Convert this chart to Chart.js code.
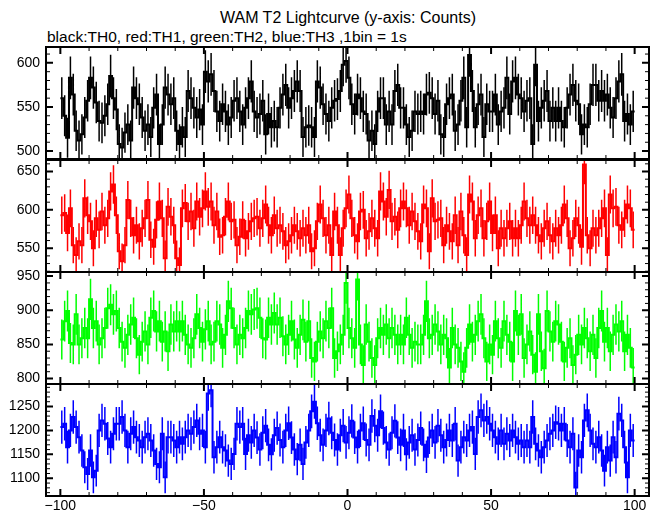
<!DOCTYPE html>
<html>
<head>
<meta charset="utf-8">
<script src="https://cdn.jsdelivr.net/npm/chart.js@4.4.1/dist/chart.umd.min.js"></script>
<style>
  html, body { margin: 0; padding: 0; background: #fff; }
  body { width: 662px; height: 515px; position: relative; overflow: hidden; font-family: 'Liberation Sans', Arial, sans-serif; }
  #title { position: absolute; left: 0; width: 696px; top: 9px; text-align: center; font-size: 16px; line-height: 18px; }
  #sub { position: absolute; left: 47px; top: 28px; font-size: 15.5px; line-height: 18px; }
  canvas { position: absolute; left: 0; }
</style>
</head>
<body>
<div id="title">WAM T2 Lightcurve (y-axis: Counts)</div>
<div id="sub">black:TH0, red:TH1, green:TH2, blue:TH3 ,1bin = 1s</div>
<canvas id="p0"></canvas>
<canvas id="p1"></canvas>
<canvas id="p2"></canvas>
<canvas id="p3"></canvas>
<script>
// WAM T2 light curve, 1 s bins from -100 s to +100 s, one panel per threshold channel.
const binStart = -100;

const th0 = [
  560,540,515,583,564,523,512,519,538,557, 583,572,555,534,532,540,553,585,560,547,
  508,504,521,530,512,572,560,553,538,523, 530,516,549,564,508,530,572,564,553,560,
  523,508,527,516,568,560,549,538,547,530, 590,579,587,568,545,534,553,545,530,538,
  557,560,545,530,549,
  560,579,545,538,542,557,519,542,527,534, 527,549,564,575,549,560,568,579,568,516,
  527,529,527,516,579,572,553,542,534,549, 557,559,568,598,602,583,553,542,564,560,
  545,542,512,523,508,545,560,560,530,545, 530,568,575,549,549,530,516,523,545,542,
  545,542,564,566,560,542,557,519,516,553,560,
  564,523,530,557,583,527,609,568,527,553, 564,516,553,545,545,564,530,545,549,583,
  542,579,583,564,560,545,557,560,508,598, 534,549,557,568,534,549,534,549,534,527,
  549,564,575,557,553,519,530,527,553,575, 575,557,568,557,564,549,538,560,579,587,
  534,542,530,545
];
const th1 = [
  593,596,570,602,554,541,559,554,615,593, 585,550,589,574,598,580,589,624,633,593,
  546,533,554,613,589,567,580,559,576,589, 613,561,552,587,611,589,537,604,591,580,
  537,528,602,609,585,598,576,611,591,602, 624,604,611,580,598,565,567,591,611,585,
  587,554,565,587,563,
  572,585,589,591,576,589,607,580,567,593, 576,580,572,554,559,567,580,572,563,576,
  567,580,546,550,585,607,589,567,580,541, 598,580,541,576,602,620,589,567,559,598,
  600,563,572,589,576,563,624,611,591,626, 585,591,574,602,611,602,580,598,585,572,
  559,607,602,546,615,585,587,589,554,580,572,
  559,593,554,598,567,541,620,611,563,593, 602,563,585,611,570,593,550,576,563,576,
  585,563,576,563,580,611,589,580,593,580, 567,559,576,585,567,559,576,567,580,607,
  589,550,563,589,580,552,659,567,550,576, 567,576,589,602,541,620,602,604,580,574,
  589,607,602,574
];
const th2 = [
  857,884,899,852,850,894,850,859,874,859, 916,874,884,850,859,874,903,908,894,899,
  874,854,845,864,879,889,859,835,854,869, 850,889,899,869,884,854,869,840,879,869,
  884,869,884,864,850,845,859,894,874,854, 872,884,850,854,884,879,845,864,913,903,
  874,850,864,859,874,
  899,894,901,903,889,859,857,889,879,896, 879,889,862,850,864,884,857,845,864,886,
  854,884,830,825,854,869,859,884,874,903, 830,840,850,864,940,874,859,845,945,850,
  820,879,854,830,820,859,874,864,879,859, 874,864,850,864,850,889,864,845,854,850,
  850,864,913,859,864,879,869,850,864,859,816,
  874,850,845,825,810,845,879,854,864,884, 894,859,825,850,835,884,859,845,884,864,
  854,825,899,864,894,830,850,869,835,810, 894,840,815,899,869,854,884,879,854,825,
  845,859,820,835,864,850,874,859,840,864, 830,874,899,854,874,840,864,879,869,884,
  840,864,845,816
];
const th3 = [
  1207,1214,1165,1200,1228,1207,1186,1158,1123,1109, 1158,1102,1116,1200,1221,1214,1183,1165,1193,1214,
  1214,1228,1200,1165,1193,1207,1186,1179,1165,1186, 1193,1179,1158,1130,1123,1193,1102,1186,1186,1179,
  1165,1186,1172,1186,1200,1193,1207,1221,1193,1200, 1165,1277,1284,1144,1165,1186,1165,1158,1137,1130,
  1151,1214,1207,1214,1151,
  1190,1175,1200,1185,1160,1195,1210,1170,1150,1190, 1205,1180,1165,1200,1215,1185,1160,1140,1170,1130,
  1175,1200,1240,1260,1215,1190,1170,1200,1225,1195, 1180,1160,1190,1210,1175,1195,1220,1185,1165,1200,
  1215,1180,1170,1230,1210,1190,1240,1205,1175,1160, 1195,1220,1185,1170,1200,1150,1175,1190,1160,1180,
  1205,1170,1145,1185,1200,1175,1210,1190,1165,1180,1200,
  1179,1214,1137,1165,1186,1179,1200,1207,1151,1228, 1242,1221,1228,1214,1200,1186,1172,1200,1172,1193,
  1179,1200,1186,1172,1179,1165,1179,1165,1228,1172, 1158,1144,1165,1179,1193,1200,1217,1214,1200,1214,
  1179,1165,1193,1081,1158,1144,1221,1242,1200,1172, 1165,1186,1158,1116,1165,1137,1186,1144,1235,1221,
  1165,1102,1200,1179
];

const series = [th0, th1, th2, th3];
const seriesColors = ['#000000', '#ff0000', '#00ff00', '#0000ff'];
const yMins = [491, 519, 792, 1063];
const yMaxs = [618, 665, 956, 1297];
const xMin = -105, xMax = 105;

const FONT = { family: "'Liberation Sans', Arial, sans-serif", size: 14 };
const panelTops = [47, 160, 272, 384];
const panelH = 112;
const PAD = 10;

const minus = v => (v < 0 ? '\u2212' + Math.abs(v) : String(v));

// frame, inward ticks on all four sides and the Poisson error bars
const panelDecor = {
  id: 'panelDecor',
  afterDatasetsDraw(chart) {
    const { ctx, chartArea: a, scales: { x, y } } = chart;
    const ds = chart.data.datasets[0];
    ctx.save();
    ctx.beginPath();
    ctx.rect(a.left, a.top, a.right - a.left, a.bottom - a.top);
    ctx.clip();
    ctx.strokeStyle = ds.borderColor;
    ctx.lineWidth = 1.5;
    ctx.beginPath();
    ds.counts.forEach((c, i) => {
      const px = x.getPixelForValue(binStart + i + 0.5);
      const e = Math.sqrt(c);
      ctx.moveTo(px, y.getPixelForValue(c - e));
      ctx.lineTo(px, y.getPixelForValue(c + e));
    });
    ctx.stroke();
    ctx.restore();

    ctx.save();
    ctx.strokeStyle = '#000';
    for (let v = -100; v <= 100; v += 10) {
      const major = v % 50 === 0;
      const px = x.getPixelForValue(v);
      const len = major ? 7 : 4;
      ctx.lineWidth = major ? 2 : 1;
      ctx.beginPath();
      ctx.moveTo(px, a.top); ctx.lineTo(px, a.top + len);
      ctx.moveTo(px, a.bottom); ctx.lineTo(px, a.bottom - len);
      ctx.stroke();
    }
    for (let v = Math.ceil(y.min / 10) * 10; v <= y.max; v += 10) {
      const major = v % 50 === 0;
      const py = y.getPixelForValue(v);
      const len = major ? 7 : 4;
      ctx.lineWidth = major ? 2 : 1;
      ctx.beginPath();
      ctx.moveTo(a.left, py); ctx.lineTo(a.left + len, py);
      ctx.moveTo(a.right, py); ctx.lineTo(a.right - len, py);
      ctx.stroke();
    }
    ctx.lineWidth = 2;
    ctx.strokeRect(a.left, a.top, a.right - a.left, a.bottom - a.top);
    ctx.restore();
  }
};

// keep Chart.js from reserving room for labels that sit near the panel edges
const noEdgePadding = s => {
  s.paddingTop = 0; s.paddingBottom = 0; s.paddingLeft = 0; s.paddingRight = 0;
};

series.forEach((counts, k) => {
  const last = k === series.length - 1;
  const canvas = document.getElementById('p' + k);
  const h = panelH + PAD + (last ? 19 : PAD);
  canvas.width = 662;
  canvas.height = h;
  canvas.style.top = (panelTops[k] - PAD) + 'px';

  const points = counts.map((c, i) => ({ x: binStart + i, y: c }));
  points.push({ x: binStart + counts.length, y: counts[counts.length - 1] });

  new Chart(canvas, {
    type: 'line',
    data: {
      datasets: [{
        data: points, counts,
        borderColor: seriesColors[k], borderWidth: 2,
        stepped: 'before', pointRadius: 0, tension: 0, clip: 0,
      }],
    },
    options: {
      responsive: false, animation: false, events: [],
      layout: { padding: { top: PAD, bottom: last ? 0 : PAD, left: 0, right: 13 } },
      plugins: { legend: { display: false }, tooltip: { enabled: false } },
      scales: {
        x: {
          type: 'linear', min: xMin, max: xMax, display: last,
          grid: { display: false, drawTicks: false }, border: { display: false },
          ticks: { stepSize: 50, includeBounds: false, color: '#000', font: FONT, padding: 2, maxRotation: 0, callback: minus },
          afterFit: s => { s.height = last ? 19 : 0; noEdgePadding(s); },
        },
        y: {
          type: 'linear', min: yMins[k], max: yMaxs[k],
          grid: { display: false, drawTicks: false }, border: { display: false },
          ticks: { stepSize: 50, includeBounds: false, color: '#000', font: FONT, padding: 6, callback: v => String(v) },
          afterFit: s => { s.width = 46; noEdgePadding(s); },
        },
      },
    },
    plugins: [panelDecor],
  });
});
</script>
</body>
</html>
